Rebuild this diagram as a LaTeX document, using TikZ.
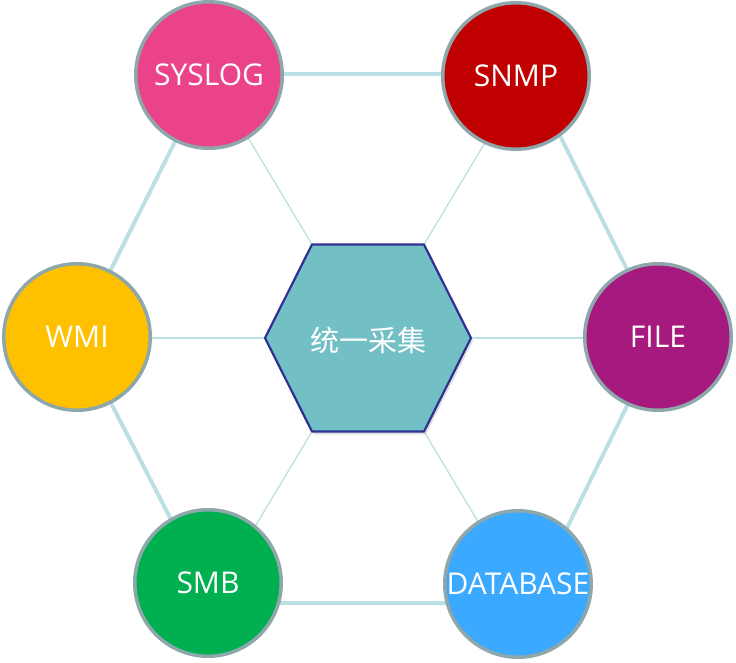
\documentclass[tikz,border=0pt]{standalone}
\usepackage{fontspec}
\setmainfont{Open Sans}
\newfontfamily\cjk{Noto Sans CJK SC}
\usetikzlibrary{calc,shadows}
\definecolor{linec}{HTML}{BBE0E3}
\definecolor{ringc}{HTML}{8EA7AA}
\definecolor{hexfill}{HTML}{72BFC5}
\definecolor{hexedge}{HTML}{2E3192}
\definecolor{csyslog}{HTML}{EB438A}
\definecolor{csnmp}{HTML}{C00000}
\definecolor{cwmi}{HTML}{FFC000}
\definecolor{cfile}{HTML}{A6197F}
\definecolor{csmb}{HTML}{00B050}
\definecolor{cdb}{HTML}{3AA9FF}
\tikzset{
  proto/.style={circle, draw=ringc, line width=3.5pt, minimum size=146.5pt, inner sep=0pt,
    text=white, font=\fontsize{30}{34}\selectfont},
  outerline/.style={draw=linec, line width=4pt},
  spoke/.style={draw=linec, line width=1.3pt},
}
\begin{document}
\begin{tikzpicture}[x=1pt,y=-1pt]
\useasboundingbox (0,0) rectangle (736,662);
% outer ring coordinates
\coordinate (o1) at (209,74);
\coordinate (o2) at (529,74);
\coordinate (o3) at (661,337);
\coordinate (o4) at (530,603);
\coordinate (o5) at (214,603);
\coordinate (o6) at (77,337);
\draw[outerline] (o1) -- (o2) -- (o3) -- (o4) -- (o5) -- (o6) -- cycle;
% hexagon coordinates
\coordinate (hc) at (368,338);
\coordinate (h1) at (265,338);
\coordinate (h2) at (312,244.5);
\coordinate (h3) at (424,244.5);
\coordinate (h4) at (471,338);
\coordinate (h5) at (424,431.5);
\coordinate (h6) at (312,431.5);
\foreach \v in {h1,h2,h3,h4,h5,h6}{
  \draw[spoke] (hc) -- ($(hc)!2.8!(\v)$);
}
\fill[black!35, opacity=0.35] ([shift={(2,3)}]h1) -- ([shift={(2,3)}]h2) -- ([shift={(2,3)}]h3) -- ([shift={(2,3)}]h4) -- ([shift={(2,3)}]h5) -- ([shift={(2,3)}]h6) -- cycle;
\filldraw[fill=hexfill, draw=hexedge, line width=2.2pt, line join=round]
  (h1) -- (h2) -- (h3) -- (h4) -- (h5) -- (h6) -- cycle;
\node[text=white, font=\cjk\fontsize{29}{32}\selectfont] (center) at (368,340) {统一采集};
% protocol circles
\node[proto, fill=csyslog] (syslog) at (209,75) {SYSLOG};
\node[proto, fill=csnmp] (snmp) at (516,76) {SNMP};
\node[proto, fill=cwmi] (wmi) at (77,337) {WMI};
\node[proto, fill=cfile] (file) at (658,337) {FILE};
\node[proto, fill=csmb] (smb) at (208,583) {SMB};
\node[proto, fill=cdb] (db) at (518,584) {DATABASE};
\end{tikzpicture}
\end{document}
